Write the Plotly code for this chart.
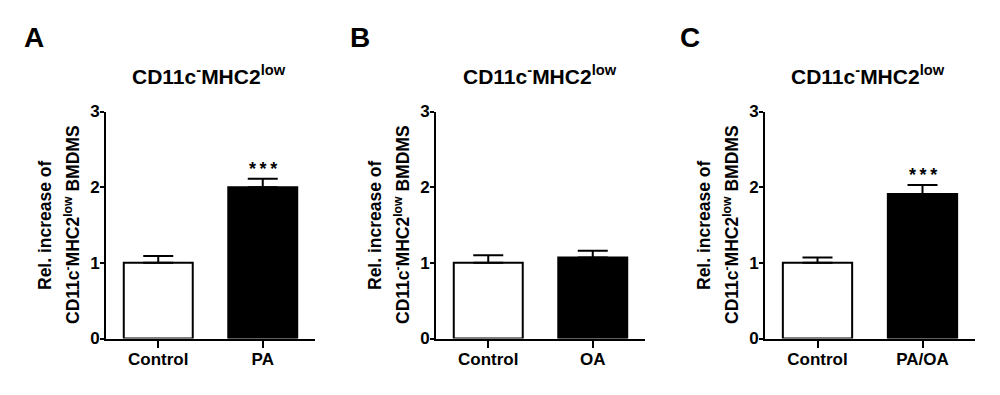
import plotly.graph_objects as go

# ---------------- data ----------------
panel_letters = ["A", "B", "C"]
categories_A = ["Control", "PA"]
categories_B = ["Control", "OA"]
categories_C = ["Control", "PA/OA"]
means_A = [1.00, 2.00]
means_B = [1.00, 1.07]
means_C = [1.00, 1.91]
sem_A = [0.09, 0.11]
sem_B = [0.10, 0.09]
sem_C = [0.07, 0.12]
signif_A = ["", "***"]
signif_B = ["", ""]
signif_C = ["", "***"]
y_ticks = [0, 1, 2, 3]
panel_title = "CD11c<sup>-</sup>MHC2<sup>low</sup>"
ytitle_line1 = "Rel. increase of"
ytitle_line2 = "CD11c<sup>-</sup>MHC2<sup>low</sup> BMDMS"

panels = [
    (categories_A, means_A, sem_A, signif_A),
    (categories_B, means_B, sem_B, signif_B),
    (categories_C, means_C, sem_C, signif_C),
]

W, H = 1000, 395
FONT = "Arial, Liberation Sans, sans-serif"
bar_colors = ["white", "black"]

# pixel layout
x_domains_px = [(106, 315), (436, 645), (765, 975)]
y_bottom_px, y_top_px = 338.5, 111.5
letter_x_px = [34, 360, 690]
title_x_px = [209, 540, 868]
ytitle1_x_px = [45, 375, 704]
ytitle2_x_px = [72, 402, 731]


def px_x(v):
    return v / W


def px_y(v):
    return (H - v) / H


fig = go.Figure()
annotations = []
for i, (cats, means, sems, sig) in enumerate(panels):
    n = i + 1
    xa = "x" if n == 1 else f"x{n}"
    ya = "y" if n == 1 else f"y{n}"
    fig.add_trace(go.Bar(
        x=cats, y=means,
        xaxis=xa, yaxis=ya,
        width=0.66,
        marker=dict(color=bar_colors, line=dict(color="black", width=2)),
        error_y=dict(type="data", array=sems, arrayminus=[0] * len(sems),
                     symmetric=False, color="black", thickness=2, width=15),
        showlegend=False,
        hoverinfo="skip",
    ))
    for c, m, s, t in zip(cats, means, sems, sig):
        if t:
            annotations.append(dict(
                x=c, y=m + s, xref=xa, yref=ya, text="\u2009".join(t),
                showarrow=False, yanchor="bottom", yshift=-2,
                font=dict(family=FONT, size=18, color="black", weight="bold"),
            ))
    dom = [px_x(x_domains_px[i][0]), px_x(x_domains_px[i][1])]
    axis_common = dict(showline=True, linecolor="black", linewidth=2,
                       showgrid=False, zeroline=False, ticks="outside",
                       tickcolor="black", tickwidth=2, automargin=False,
                       ticklabelstandoff=-3,
                       tickfont=dict(family=FONT, size=17, color="black",
                                     weight="bold"))
    fig.layout[f"xaxis{n if n > 1 else ''}"] = dict(
        domain=dom, anchor=ya, range=[-0.5, 1.5], ticklen=7, **axis_common)
    fig.layout[f"yaxis{n if n > 1 else ''}"] = dict(
        domain=[px_y(y_bottom_px), px_y(y_top_px)], anchor=xa,
        range=[0, 3], tickvals=y_ticks, ticklen=4, **axis_common)

    # panel letter
    annotations.append(dict(
        x=px_x(letter_x_px[i]), y=px_y(38), xref="paper", yref="paper",
        text=f"<b>{panel_letters[i]}</b>", showarrow=False,
        xanchor="center", yanchor="middle",
        font=dict(family=FONT, size=28, color="black")))
    # panel title
    annotations.append(dict(
        x=px_x(title_x_px[i]), y=px_y(75), xref="paper", yref="paper",
        text=f"<b>{panel_title}</b>", showarrow=False,
        xanchor="center", yanchor="middle",
        font=dict(family=FONT, size=21, color="black")))
    # y-axis title (two lines)
    ymid = px_y((y_bottom_px + y_top_px) / 2)
    annotations.append(dict(
        x=px_x(ytitle1_x_px[i]), y=ymid, xref="paper", yref="paper",
        text=f"<b>{ytitle_line1}</b>", showarrow=False, textangle=-90,
        xanchor="center", yanchor="middle",
        font=dict(family=FONT, size=17.5, color="black")))
    annotations.append(dict(
        x=px_x(ytitle2_x_px[i]), y=ymid, xref="paper", yref="paper",
        text=f"<b>{ytitle_line2}</b>", showarrow=False, textangle=-90,
        xanchor="center", yanchor="middle",
        font=dict(family=FONT, size=17.5, color="black")))

fig.update_layout(
    template="none",
    width=W, height=H,
    autosize=False,
    margin=dict(l=0, r=0, t=0, b=0, pad=0),
    paper_bgcolor="white", plot_bgcolor="white",
    annotations=annotations,
    showlegend=False,
    font=dict(family=FONT, color="black"),
)

fig.write_html("out.html", config={"displayModeBar": False},
               post_script="document.body.style.margin='0';")
